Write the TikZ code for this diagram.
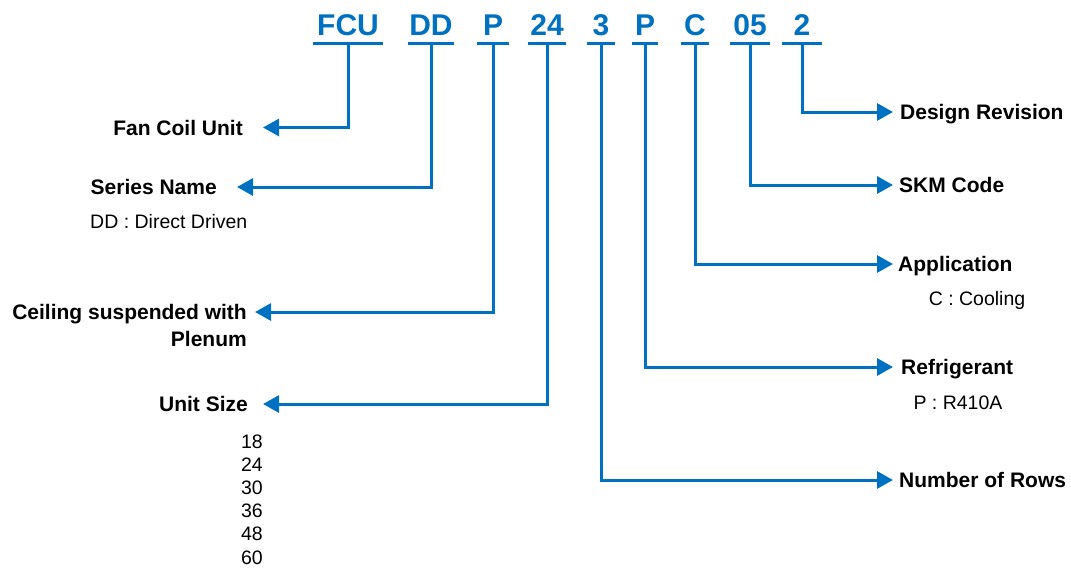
\documentclass[tikz,border=0pt]{standalone}
\usepackage{fontspec}
\setmainfont{Liberation Sans}
\usetikzlibrary{arrows.meta}

\definecolor{codeblue}{RGB}{0,112,192}
\tikzset{
	code/.style={font=\bfseries\fontsize{30}{30}\selectfont, text=codeblue,
		text height=21.6pt, text depth=0pt, inner ysep=7pt, inner xsep=0pt},
	uline/.style={draw=codeblue, line width=3pt},
	arr/.style={draw=codeblue, line width=3pt, -{Triangle[length=16pt,width=17pt]}},
	lbl/.style={font=\bfseries\fontsize{21}{21}\selectfont,
		text height=15.1pt, text depth=0pt, inner ysep=0pt},
	sub/.style={font=\fontsize{19.5}{19.5}\selectfont,
		text height=14pt, text depth=0pt, inner sep=0pt}
}

\begin{document}
\begin{tikzpicture}[x=1pt,y=-1pt]
	\useasboundingbox (0,0) rectangle (1071,568);

	% model code
	\node[code, minimum width=70pt] (fcu) at (348,25) {FCU};
	\node[code, minimum width=46pt] (dd) at (431,25) {DD};
	\node[code, minimum width=31pt] (ptype) at (493,25) {P};
	\node[code, minimum width=38pt] (size) at (547,25) {24};
	\node[code, minimum width=27pt] (rows) at (601,25) {3};
	\node[code, minimum width=26pt] (refr) at (645,25) {P};
	\node[code, minimum width=27pt] (app) at (695,25) {C};
	\node[code, minimum width=39pt] (skm) at (750,25) {05};
	\node[code, minimum width=39pt] (rev) at (802,25) {2};
	\foreach \c in {fcu,dd,ptype,size,rows,refr,app,skm,rev}
		\draw[uline] (\c.south west) -- (\c.south east);

	% left side
	\node[lbl, anchor=east, inner xsep=20pt] (fculbl) at (263,127.5) {Fan Coil Unit};
	\node[lbl, anchor=east, inner xsep=20pt] (ddlbl) at (237,187) {Series Name};
	\node[sub, anchor=west] (ddsub) at (90,221) {DD : Direct Driven};
	\node[lbl, anchor=east, inner xsep=8pt] (plbl) at (255,312) {Ceiling suspended with};
	\node[lbl, anchor=east, inner xsep=0pt] (plbl2) at (247,339) {Plenum};
	\node[lbl, anchor=east, inner xsep=15pt] (sizelbl) at (263,404) {Unit Size};
	\foreach \n [count=\i] in {18,24,30,36,48,60}
		\node[sub] (size\i) at (252,{441+23.2*(\i-1)}) {\n};

	% right side
	\node[lbl, anchor=west, inner xsep=7pt] (revlbl) at (893,112) {Design Revision};
	\node[lbl, anchor=west, inner xsep=6pt] (skmlbl) at (893,185) {SKM Code};
	\node[lbl, anchor=west, inner xsep=5pt] (applbl) at (893,264) {Application};
	\node[sub] (appsub) at (977,298) {C : Cooling};
	\node[lbl, anchor=west, inner xsep=8pt] (refrlbl) at (893,367) {Refrigerant};
	\node[sub] (refrsub) at (958,402) {P : R410A};
	\node[lbl, anchor=west, inner xsep=6pt] (rowslbl) at (893,480) {Number of Rows};

	% connectors
	\draw[arr] (fcu.south) |- (fculbl.east);
	\draw[arr] (dd.south) |- (ddlbl.east);
	\draw[arr] (ptype.south) |- (plbl.east);
	\draw[arr] (size.south) |- (sizelbl.east);
	\draw[arr] (rows.south) |- (rowslbl.west);
	\draw[arr] (refr.south) |- (refrlbl.west);
	\draw[arr] (app.south) |- (applbl.west);
	\draw[arr] (skm.south) |- (skmlbl.west);
	\draw[arr] (rev.south) |- (revlbl.west);
\end{tikzpicture}
\end{document}
